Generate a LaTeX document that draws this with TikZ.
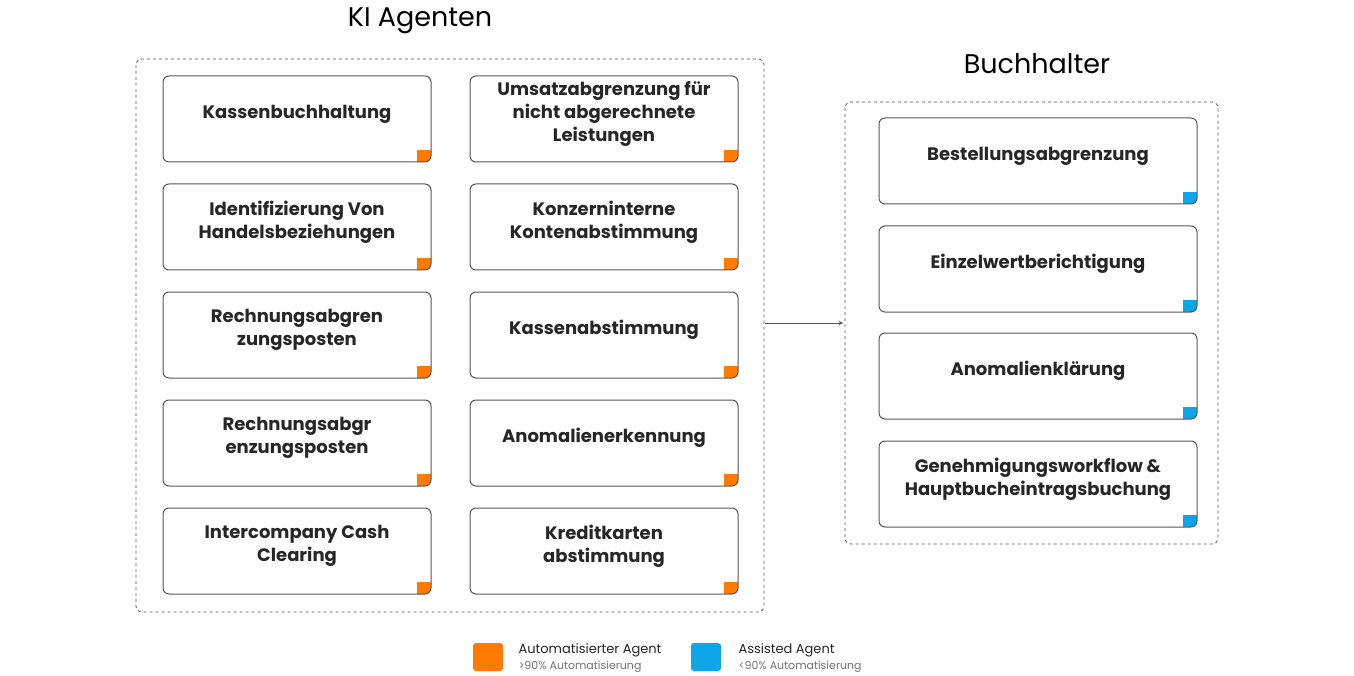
\documentclass[tikz,border=0pt]{standalone}
\usepackage{fontspec}
\setmainfont{Poppins}
\definecolor{orng}{HTML}{FF7A00}
\definecolor{blu}{HTML}{0EA5E9}
\definecolor{bord}{HTML}{555555}
\tikzset{box/.style={draw=bord,line width=1pt,rounded corners=6pt},
 cont/.style={draw=bord,dashed,line width=0.8pt,rounded corners=6pt},
 lbl/.style={align=center,font=\fontsize{18}{23}\selectfont\bfseries,text=black!85}}
\newcommand{\abox}[7]{%
 \begin{scope}\clip[rounded corners=6pt] (#2,#3) rectangle (#4,#5);
 \fill[#6] (#4-14,#5-12) rectangle (#4,#5);\end{scope}
 \draw[box] (#2,#3) rectangle (#4,#5);
 \node[lbl] (#1) at ({(#2+#4)/2},{(#3+#5)/2-5}) {#7};}
\begin{document}
\begin{tikzpicture}[x=1pt,y=-1pt]
\useasboundingbox (0,0) rectangle (1354,676);
\node[font=\fontsize{27}{30}\selectfont] (t1) at (420,21) {KI Agenten};
\node[font=\fontsize{27}{30}\selectfont] (t2) at (1037,64) {Buchhalter};
\draw[cont] (136,59) rectangle (764,612);
\draw[cont] (845,102) rectangle (1218,544);
\abox{a1}{163}{76}{431}{162}{orng}{Kassenbuchhaltung}
\abox{a2}{163}{184}{431}{270}{orng}{Identifizierung Von\\Handelsbeziehungen}
\abox{a3}{163}{292}{431}{378}{orng}{Rechnungsabgren\\zungsposten}
\abox{a4}{163}{400}{431}{486}{orng}{Rechnungsabgr\\enzungsposten}
\abox{a5}{163}{508}{431}{594}{orng}{Intercompany Cash\\Clearing}
\abox{b1}{470}{76}{738}{162}{orng}{Umsatzabgrenzung für\\nicht abgerechnete\\Leistungen}
\abox{b2}{470}{184}{738}{270}{orng}{Konzerninterne\\Kontenabstimmung}
\abox{b3}{470}{292}{738}{378}{orng}{Kassenabstimmung}
\abox{b4}{470}{400}{738}{486}{orng}{Anomalienerkennung}
\abox{b5}{470}{508}{738}{594}{orng}{Kreditkarten\\abstimmung}
\abox{c1}{879}{118}{1197}{204}{blu}{Bestellungsabgrenzung}
\abox{c2}{879}{226}{1197}{312}{blu}{Einzelwertberichtigung}
\abox{c3}{879}{333}{1197}{419}{blu}{Anomalienklärung}
\abox{c4}{879}{441}{1197}{527}{blu}{Genehmigungsworkflow \&\\Hauptbucheintragsbuchung}
\coordinate (s) at (765,323); \coordinate (e) at (843,323);
\draw[bord,line width=1pt,-stealth] (s) -- (e);
\fill[orng,rounded corners=3pt] (473,643) rectangle (503,671);
\fill[blu,rounded corners=3pt] (691,643) rectangle (721,671);
\node[anchor=west,font=\fontsize{13}{15}\selectfont,text=black!85] (l1) at (515,650) {Automatisierter Agent};
\node[anchor=west,font=\fontsize{11}{13}\selectfont,text=black!55] (l1s) at (515,667) {>90\% Automatisierung};
\node[anchor=west,font=\fontsize{13}{15}\selectfont,text=black!85] (l2) at (735,650) {Assisted Agent};
\node[anchor=west,font=\fontsize{11}{13}\selectfont,text=black!55] (l2s) at (735,667) {<90\% Automatisierung};
\end{tikzpicture}
\end{document}
